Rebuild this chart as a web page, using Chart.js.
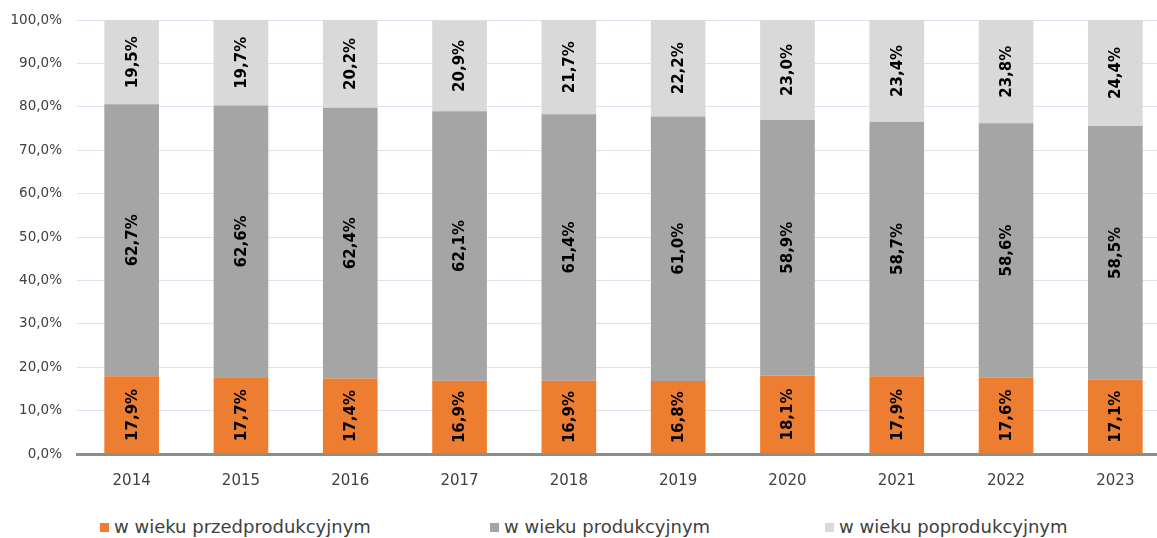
<!DOCTYPE html>
<html><head><meta charset="utf-8">
<script src="https://cdn.jsdelivr.net/npm/chart.js@4/dist/chart.umd.min.js"></script>
<style>
html,body{margin:0;padding:0;background:#fff;overflow:hidden;width:1157px;height:538px;position:relative;}
#wrap{position:absolute;left:0;top:-3px;width:1170px;height:511px;}
#legend{position:absolute;top:516px;left:0;width:1157px;height:22px;font-family:"DejaVu Sans",sans-serif;font-size:18px;color:#404040;}
.li{position:absolute;top:0;white-space:nowrap;line-height:22px;}
.sw{display:inline-block;width:9px;height:9px;margin-right:5px;vertical-align:middle;position:relative;top:-1px;}
</style></head>
<body>
<div id="wrap"><canvas id="c"></canvas></div>
<div id="legend"></div>
<script>
const categories = ['2014','2015','2016','2017','2018','2019','2020','2021','2022','2023'];
const seriesNames = ['w wieku przedprodukcyjnym','w wieku produkcyjnym','w wieku poprodukcyjnym'];
const przed = [17.9,17.7,17.4,16.9,16.9,16.8,18.1,17.9,17.6,17.1];
const prod = [62.7,62.6,62.4,62.1,61.4,61.0,58.9,58.7,58.6,58.5];
const poprod = [19.5,19.7,20.2,20.9,21.7,22.2,23.0,23.4,23.8,24.4];
const colors = ['#ED7D31','#A5A5A5','#D9D9D9'];
const legendLeft = [100,490,825];

const fmt = v => v.toFixed(1).replace('.', ',') + '%';

const labelPlugin = {
  id: 'barLabels',
  afterDatasetsDraw(chart) {
    const ctx = chart.ctx;
    ctx.save();
    ctx.font = 'bold 15px "DejaVu Sans", sans-serif';
    ctx.fillStyle = '#000';
    ctx.textAlign = 'center';
    ctx.textBaseline = 'middle';
    chart.data.datasets.forEach((ds, di) => {
      const meta = chart.getDatasetMeta(di);
      meta.data.forEach((el, i) => {
        const top = Math.max(el.y, chart.chartArea.top);
        const cy = (top + el.base) / 2;
        ctx.save();
        ctx.translate(el.x, cy);
        ctx.rotate(-Math.PI / 2);
        ctx.fillText(fmt(ds.data[i]), 0, 1);
        ctx.restore();
      });
    });
    ctx.restore();
  }
};

const ctx = document.getElementById('c');
new Chart(ctx, {
  type: 'bar',
  data: {
    labels: categories,
    datasets: [przed, prod, poprod].map((d, i) => ({
      label: seriesNames[i], data: d, backgroundColor: colors[i],
      borderWidth: 0, barPercentage: 1, categoryPercentage: 0.5
    }))
  },
  options: {
    responsive: true, maintainAspectRatio: false, animation: false,
    layout: { padding: { top: 6, left: 0, right: 0, bottom: 0 } },
    plugins: { legend: { display: false }, tooltip: { enabled: false } },
    scales: {
      x: {
        stacked: true,
        grid: { display: false, drawTicks: false },
        border: { display: true, color: '#8C8C8C', width: 3 },
        ticks: { color: '#404040', font: { family: '"DejaVu Sans", sans-serif', size: 15 }, padding: 18 }
      },
      y: {
        stacked: true, min: 0, max: 100,
        afterFit(s) { s.width = 77; },
        grid: { color: '#DCE2EE', lineWidth: 1, drawTicks: false },
        border: { display: false },
        ticks: { stepSize: 10, padding: 15, color: '#404040',
          font: { family: '"DejaVu Sans", sans-serif', size: 13.5 },
          callback: v => v.toFixed(1).replace('.', ',') + '%' }
      }
    }
  },
  plugins: [labelPlugin]
});

const lg = document.getElementById('legend');
seriesNames.forEach((n, i) => {
  const d = document.createElement('div');
  d.className = 'li';
  d.style.left = legendLeft[i] + 'px';
  d.innerHTML = '<span class="sw" style="background:' + colors[i] + '"></span>';
  d.appendChild(document.createTextNode(n));
  lg.appendChild(d);
});
</script>
</body></html>
